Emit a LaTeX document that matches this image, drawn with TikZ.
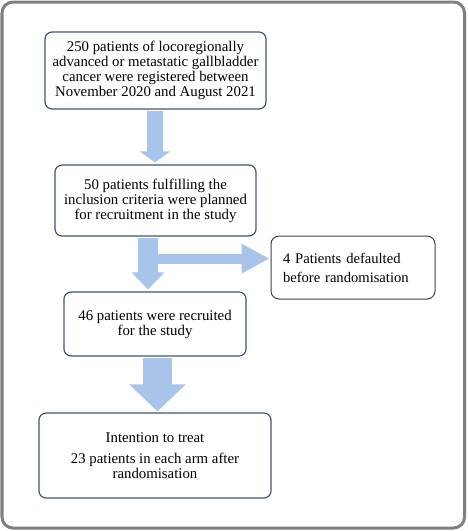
\documentclass[tikz,border=0pt]{standalone}
\usepackage{fontspec}
\setmainfont{Liberation Serif}
\usetikzlibrary{arrows.meta,calc}
\definecolor{arrowblue}{HTML}{A9C4EB}
\definecolor{boxblue}{HTML}{3E5779}
\definecolor{boxgray}{HTML}{404040}
\definecolor{framegray}{HTML}{7F7F7F}
\tikzset{
  bluebox/.style={draw=boxblue, line width=1.2pt, rounded corners=7pt, align=center, inner sep=0pt, font=\fontsize{14.8}{15}\selectfont},
  graybox/.style={draw=boxgray, line width=1pt, rounded corners=8pt, align=left, inner xsep=12pt, inner ysep=0pt, text width=140pt, font=\fontsize{14.6}{19}\selectfont},
  fatarrow/.style={draw=arrowblue, line cap=butt}
}
\begin{document}
\begin{tikzpicture}[x=1pt,y=-1pt]
\useasboundingbox (0,0) rectangle (468,531);
\draw[framegray, line width=3pt, rounded corners=11pt] (2,2) rectangle (464.5,528);

\node[bluebox, minimum width=221pt, minimum height=77pt] (b1) at (155.5,70.5)
  {250 patients of locoregionally\\advanced or metastatic gallbladder\\cancer were registered between\\November 2020 and August 2021};
\node[bluebox, minimum width=201pt, minimum height=71pt] (b2) at (155.5,200.5)
  {50 patients fulfilling the\\inclusion criteria were planned\\for recruitment in the study};
\node[graybox, minimum width=164pt, minimum height=63pt] (b3) at (353,267.5)
  {4 Patients defaulted\\before randomisation};
\node[bluebox, minimum width=182pt, minimum height=64pt] (b4) at (155,324)
  {46 patients were recruited\\for the study};
\node[bluebox, minimum width=232pt, minimum height=85pt, font=\fontsize{14.8}{14.5}\selectfont] (b5) at (155,455.5)
  {Intention to treat\\[7pt]23 patients in each arm after\\randomisation};

\draw[fatarrow, line width=16pt, -{Triangle[width=30pt,length=11pt]}, shorten <=1pt, shorten >=2pt]
  ([xshift=-0.5pt]b1.south) -- ([xshift=-0.5pt]b2.north);
\coordinate (split) at ([xshift=-7.5pt,yshift=-22pt]b2.south);
\draw[fatarrow, line width=20pt, -{Triangle[width=32pt,length=17pt]}, shorten <=1pt, shorten >=2pt]
  ([xshift=-7.5pt]b2.south) -- ([xshift=-7pt]b4.north);
\draw[fatarrow, line width=10pt, -{Triangle[width=28pt,length=28pt]}, shorten >=1pt]
  (split) -- (split -| b3.west);
\draw[fatarrow, line width=29pt, -{Triangle[width=55pt,length=27pt]}, shorten <=1pt, shorten >=1pt]
  ([xshift=2.5pt]b4.south) -- ([xshift=2.5pt]b5.north);
\end{tikzpicture}
\end{document}
